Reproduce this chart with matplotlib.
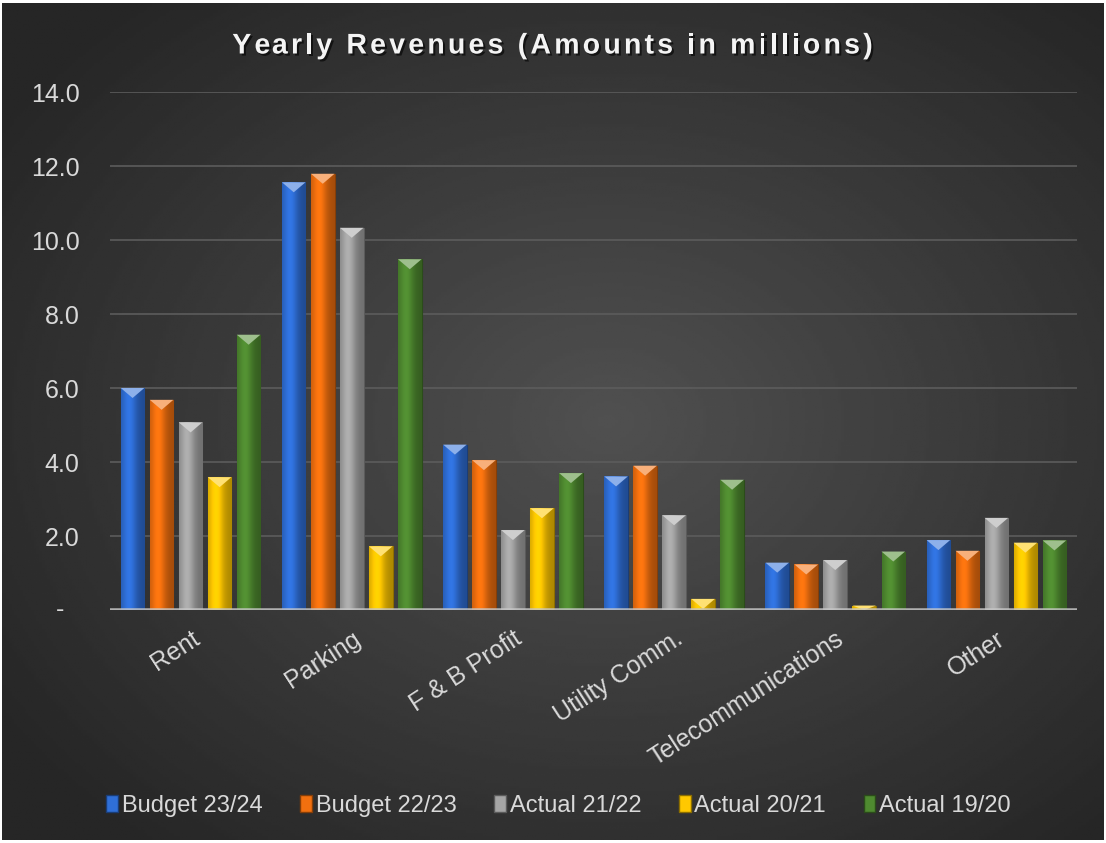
import numpy as np
import matplotlib
matplotlib.use('Agg')
import matplotlib.pyplot as plt
import matplotlib.patheffects as pe
from matplotlib.patches import Polygon, Patch
from matplotlib.colors import to_rgb

plt.rcParams['font.family'] = ['Liberation Sans', 'DejaVu Sans']

# ---- data (amounts in millions) ----
categories = ['Rent', 'Parking', 'F & B Profit', 'Utility Comm.', 'Telecommunications', 'Other']
series_names = ['Budget 23/24', 'Budget 22/23', 'Actual 21/22', 'Actual 20/21', 'Actual 19/20']
budget_2324 = [6.00, 11.56, 4.47, 3.61, 1.28, 1.89]
budget_2223 = [5.68, 11.79, 4.05, 3.90, 1.23, 1.60]
actual_2122 = [5.07, 10.33, 2.16, 2.56, 1.35, 2.49]
actual_2021 = [3.59, 1.72, 2.75, 0.30, 0.12, 1.82]
actual_1920 = [7.44, 9.48, 3.70, 3.52, 1.58, 1.88]
y_ticks = [0, 2, 4, 6, 8, 10, 12, 14]

series = [budget_2324, budget_2223, actual_2122, actual_2021, actual_1920]
colors = ['#2f6fd8', '#f2700f', '#a5a5a5', '#ffc800', '#4f8a30']

W, H = 1106, 843
fig = plt.figure(figsize=(W / 100, H / 100), dpi=100, facecolor='white')

# dark radial background
bg = fig.add_axes([2 / W, 3 / H, 1 - 4 / W, 1 - 6 / H])
bg.axis('off')
yy, xx = np.mgrid[0:1:300j, 0:1:400j]
r = np.sqrt(((xx - 0.55) / 0.8) ** 2 + ((yy - 0.5) / 0.8) ** 2)
shade = np.clip(0.315 - 0.2 * r, 0.15, 0.315)
bg.imshow(shade, cmap='gray', vmin=0, vmax=1, extent=(0, 1, 0, 1), aspect='auto')

ax = fig.add_axes([110 / W, (H - 610) / H, (1077 - 110) / W, (610 - 92) / H])
ax.set_facecolor('none')
for s in ax.spines.values():
    s.set_visible(False)

step, bw = 0.18, 0.146
px_per_unit = (610 - 92) / 14.0
bevel = 10 / px_per_unit

t = np.linspace(0, 1, 64)
profile = 0.78 + 0.32 * np.exp(-((t - 0.35) / 0.3) ** 2) - 0.1 * t

for i, (vals, col) in enumerate(zip(series, colors)):
    base = np.array(to_rgb(col))
    dark = base * 0.55
    x = np.arange(len(categories)) + (i - 2) * step
    bars = ax.bar(x, vals, bw, color=col, edgecolor=dark, linewidth=0.8, zorder=2)
    grad = np.clip(base[None, None, :] * profile[None, :, None], 0, 1)
    light = base + (1 - base) * 0.45
    for b, v in zip(bars, vals):
        x0 = b.get_x()
        x1 = x0 + b.get_width()
        im = ax.imshow(grad, extent=(x0, x1, 0, v), aspect='auto', zorder=2.1)
        im.set_clip_path(b)
        d = min(bevel, v)
        ax.add_patch(Polygon([(x0, v), (x1, v), ((x0 + x1) / 2, v - d)],
                             closed=True, facecolor=light, edgecolor='none', zorder=2.2))

ax.set_xlim(-0.5, len(categories) - 0.5)
ax.set_ylim(0, 14)
ax.set_yticks(y_ticks)
ax.set_yticklabels([''] + ['%.1f' % v for v in y_ticks[1:]])
ax.grid(axis='y', color='#5c5c5c', linewidth=1.2, zorder=0)
ax.set_axisbelow(True)
ax.axhline(0, color='#c8c8c8', linewidth=2.6, alpha=0.8, zorder=3)
ax.tick_params(axis='y', length=0, pad=22, labelsize=18, labelcolor='#d9d9d9')
ax.annotate('-', xy=(0, 0), xycoords=('axes fraction', 'data'), xytext=(-50, 0),
            textcoords='offset pixels', ha='center', va='center',
            fontsize=18, color='#d9d9d9')

ax.set_xticks(range(len(categories)))
ax.set_xticklabels(categories, rotation=33, ha='right', rotation_mode='anchor')
ax.tick_params(axis='x', length=0, pad=12, labelsize=18, labelcolor='#d9d9d9')

# spaced-out bold title, laid out one character at a time
title = 'Yearly Revenues (Amounts in millions)'
tkw = dict(fontsize=20.5, fontweight='bold', color='#f4f4f4')
renderer = fig.canvas.get_renderer()


def text_width(s):
    tt = fig.text(0, 0, s, **tkw)
    w = tt.get_window_extent(renderer).width
    tt.remove()
    return w


bar_w = text_width('|')
spacing = 3.2
offsets = [text_width(title[:k] + '|') - bar_w if k else 0.0 for k in range(len(title))]
total = offsets[-1] + text_width(title[-1]) + spacing * (len(title) - 1)
x_start = 552.5 - total / 2
for k, ch in enumerate(title):
    if ch == ' ':
        continue
    xp = x_start + offsets[k] + spacing * k
    fig.text(xp / W, (H - 53.5) / H, ch, ha='left', va='baseline',
             path_effects=[pe.withSimplePatchShadow(offset=(1.5, -1.5),
                                                    shadow_rgbFace='black', alpha=0.6)],
             **tkw)

handles = [Patch(facecolor=c, edgecolor=np.array(to_rgb(c)) * 0.55) for c in colors]
fig.legend(handles, series_names, loc='center', bbox_to_anchor=(0.505, (H - 806) / H),
           ncol=5, frameon=False, fontsize=17, labelcolor='#d9d9d9',
           handlelength=0.5, handleheight=0.7, handletextpad=0.15, columnspacing=1.6)

fig.savefig('out.png', dpi=100, facecolor=fig.get_facecolor())
